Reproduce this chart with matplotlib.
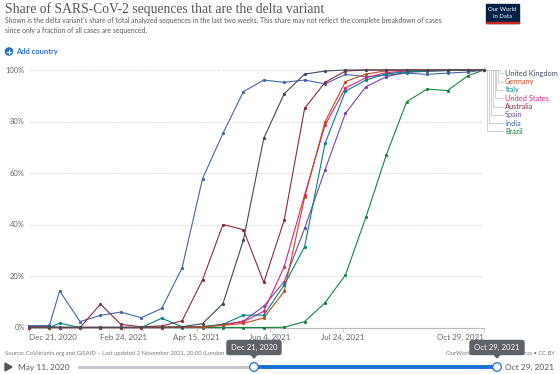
import numpy as np
import pandas as pd
import matplotlib
matplotlib.use("Agg")
import matplotlib.pyplot as plt
from matplotlib.patches import FancyBboxPatch, Circle, Rectangle, Polygon

plt.rcParams['font.family'] = ['Lato', 'DejaVu Sans']

# ---------------- data (share of sequences, %) ----------------
dates = pd.to_datetime([
    '2020-12-21', '2021-01-04', '2021-01-11', '2021-01-25', '2021-02-08', '2021-02-22',
    '2021-03-08', '2021-03-22', '2021-04-05', '2021-04-19', '2021-05-03', '2021-05-17',
    '2021-05-31', '2021-06-14', '2021-06-28', '2021-07-12', '2021-07-26', '2021-08-09',
    '2021-08-23', '2021-09-06', '2021-09-20', '2021-10-04', '2021-10-18', '2021-10-29'])

uk = [0.1, 0.1, 0.1, 0.1, 0.1, 0.1, 0.1, 0.2, 0.3, 1.5, 9.3, 33.9,
      73.5, 90.8, 98.4, 99.6, 100, 100, 100, 100, 100, 100, 100, 100]
germany = [0, 0, 0, 0, 0, 0, 0, 0, 0.1, 0.2, 0.8, 1.6,
           3.7, 14.0, 50.5, 79.9, 95.5, 98.4, 99.7, 100, 100, 100, 100, 100]
italy = [0, 0, 1.7, 0, 0, 0, 0, 3.6, 0.3, 0.3, 1.2, 4.8,
         4.8, 16.5, 31.4, 71.5, 91.8, 96.1, 98.5, 99.3, 99.6, 99.8, 99.9, 100]
us = [0, 0, 0, 0, 0, 0, 0, 0, 0.1, 0.3, 1.2, 2.2,
      6.3, 23.6, 51.5, 78.6, 93.0, 97.0, 99.0, 99.6, 99.8, 99.9, 100, 100]
australia = [0.3, 0.3, 0, 0, 9.1, 1.2, 0.3, 0.6, 2.6, 18.5, 40.0, 38.0,
             17.5, 41.7, 85.1, 95.2, 99.6, 100, 100, 100, 100, 100, 100, 100]
spain = [0, 0, 0, 0, 0, 0, 0, 0, 0.1, 0.3, 1.0, 2.5,
         8.3, 17.8, 38.5, 61.2, 83.2, 93.5, 97.4, 99.1, 99.5, 99.8, 99.9, 100]
india = [0.7, 0.8, 14.2, 2.3, 4.7, 6.0, 3.8, 7.4, 23.2, 57.8, 75.4, 91.6,
         96.1, 95.2, 96.1, 94.6, 98.3, 97.4, 98.0, 98.8, 98.3, 98.8, 99.2, 100]
brazil = [0, 0, 0, 0, 0, 0, 0, 0, 0, 0, 0, 0,
          0, 0.1, 2.3, 9.6, 20.4, 42.8, 67.0, 87.7, 92.6, 92.0, 97.8, 100]

countries = ['United Kingdom', 'Germany', 'Italy', 'United States',
             'Australia', 'Spain', 'India', 'Brazil']
series = [uk, germany, italy, us, australia, spain, india, brazil]
colors = ['#3f4a5c', '#c54a1a', '#00847e', '#e0207e',
          '#8f2a3c', '#7447a8', '#4466a8', '#16853f']

xtick_dates = pd.to_datetime(['2020-12-21', '2021-02-24', '2021-04-15',
                              '2021-06-04', '2021-07-24', '2021-10-29'])
xtick_labels = ['Dec 21, 2020', 'Feb 24, 2021', 'Apr 15, 2021',
                'Jun 4, 2021', 'Jul 24, 2021', 'Oct 29, 2021']
ytick_vals = [0, 20, 40, 60, 80, 100]
ytick_labels = ['0%', '20%', '40%', '60%', '80%', '100%']

# ---------------- figure ----------------
W, H = 560, 374
fig = plt.figure(figsize=(W / 100, H / 100), dpi=100)
fig.patch.set_facecolor('white')

# pixel-coordinate overlay for header / footer decorations
deco = fig.add_axes([0, 0, 1, 1])
deco.set_xlim(0, W)
deco.set_ylim(H, 0)
deco.axis('off')

# chart area
x0, x1, ytop, ybot = 29, 484, 70, 327.5
ax = fig.add_axes([x0 / W, 1 - ybot / H, (x1 - x0) / W, (ybot - ytop) / H])
ax.set_facecolor('none')
ax.set_xlim(dates[0], dates[-1])
ax.set_ylim(0, 100)

for v in ytick_vals[1:]:
    ax.axhline(v, color='#dddddd', lw=0.7, ls=(0, (2.5, 2)), zorder=0)

for name, vals, c in list(zip(countries, series, colors))[::-1]:
    ax.plot(dates, vals, color=c, lw=0.8, marker='o', ms=1.3,
            mec=c, mfc=c, clip_on=False, zorder=3)

for s in ['top', 'right', 'left']:
    ax.spines[s].set_visible(False)
ax.spines['bottom'].set_color('#bbbbbb')
ax.spines['bottom'].set_linewidth(0.8)

ax.set_yticks(ytick_vals)
ax.set_yticklabels(ytick_labels)
ax.tick_params(axis='y', length=0, pad=3, labelsize=5.4, labelcolor='#666666')
ax.set_xticks(xtick_dates)
ax.set_xticklabels(xtick_labels)
ax.tick_params(axis='x', length=3, width=0.6, color='#bbbbbb', pad=1.5,
               labelsize=5.8, labelcolor='#666666')
xt = ax.get_xticklabels()
xt[0].set_ha('left')
xt[-1].set_ha('right')

# ---------------- labels at line ends ----------------
end_disp = ax.transData.transform((ax.get_xlim()[1], 100))
ex, ey = deco.transData.inverted().transform(end_disp)
for i, (name, c) in enumerate(zip(countries, colors)):
    ly = 73.3 + 8.3 * i
    vx = 500 - 1.8 * i
    deco.plot([ex, vx, vx, 503], [ey, ey, ly, ly], color='#c8c8c8', lw=0.6)
    deco.text(505, ly, name, color=c, fontsize=5.3, va='center', ha='left')

# ---------------- header ----------------
deco.text(5, 9.5, 'Share of SARS-CoV-2 sequences that are the delta variant',
          family=['Liberation Serif', 'DejaVu Serif'], fontsize=9.8,
          color='#555555', va='center', ha='left')
deco.text(5, 20.5, "Shown is the delta variant\u2019s share of total analyzed sequences in the last two "
          "weeks. This share may not reflect the complete breakdown of cases",
          fontsize=4.95, color='#5b5b5b', va='center', ha='left')
deco.text(5, 30.5, 'since only a fraction of all cases are sequenced.',
          fontsize=4.95, color='#5b5b5b', va='center', ha='left')

deco.add_patch(Circle((9, 51.5), 3.6, color='#2a6fcc'))
deco.plot([7, 11], [51.5, 51.5], color='white', lw=0.8)
deco.plot([9, 9], [49.5, 53.5], color='white', lw=0.8)
deco.text(16, 51.5, 'Add country', fontsize=5.4, color='#2a6fcc',
          weight='bold', va='center', ha='left')

# logo
deco.add_patch(Rectangle((486, 4), 33, 19, color='#002147'))
deco.add_patch(Rectangle((486, 21.5), 33, 1.5, color='#ce261e'))
deco.text(502.5, 9.5, 'Our World', color='white', fontsize=4.3, ha='center', va='center')
deco.text(502.5, 16, 'in Data', color='white', fontsize=4.3, ha='center', va='center')

# ---------------- footer ----------------
deco.text(5, 353, 'Source: CoVariants.org and GISAID \u2013 Last updated 2 November 2021, 20:00 (London time)',
          fontsize=4.2, color='#777777', va='center', ha='left')
deco.text(555, 353, 'OurWorldInData.org/coronavirus \u2022 CC BY',
          fontsize=4.2, color='#777777', va='center', ha='right')

# timeline
deco.add_patch(Polygon([[5, 363], [5, 371], [12, 367]], color='#555555'))
deco.text(18, 367, 'May 11, 2020', fontsize=6, color='#555555', va='center', ha='left')
deco.text(505, 367, 'Oct 29, 2021', fontsize=6, color='#555555', va='center', ha='left')
deco.plot([79, 254], [367, 367], color='#c2c6cc', lw=2.2, solid_capstyle='round')
deco.plot([254, 497], [367, 367], color='#1a6fd8', lw=2.8)
for hx in [254, 497]:
    deco.add_patch(Circle((hx, 367), 4.3, facecolor='white', edgecolor='#1a6fd8', lw=0.9, zorder=5))

for cx, lab in [(254, 'Dec 21, 2020'), (497, 'Oct 29, 2021')]:
    deco.add_patch(FancyBboxPatch((cx - 27, 340.5), 54, 14, boxstyle='round,pad=0,rounding_size=2',
                                  color='#5f6266', zorder=6))
    deco.add_patch(Polygon([[cx - 3, 354.5], [cx + 3, 354.5], [cx, 358]], color='#5f6266', zorder=6))
    deco.text(cx, 347.5, lab, fontsize=5.6, color='white', ha='center', va='center', zorder=7)

fig.savefig('out.png', dpi=100)
